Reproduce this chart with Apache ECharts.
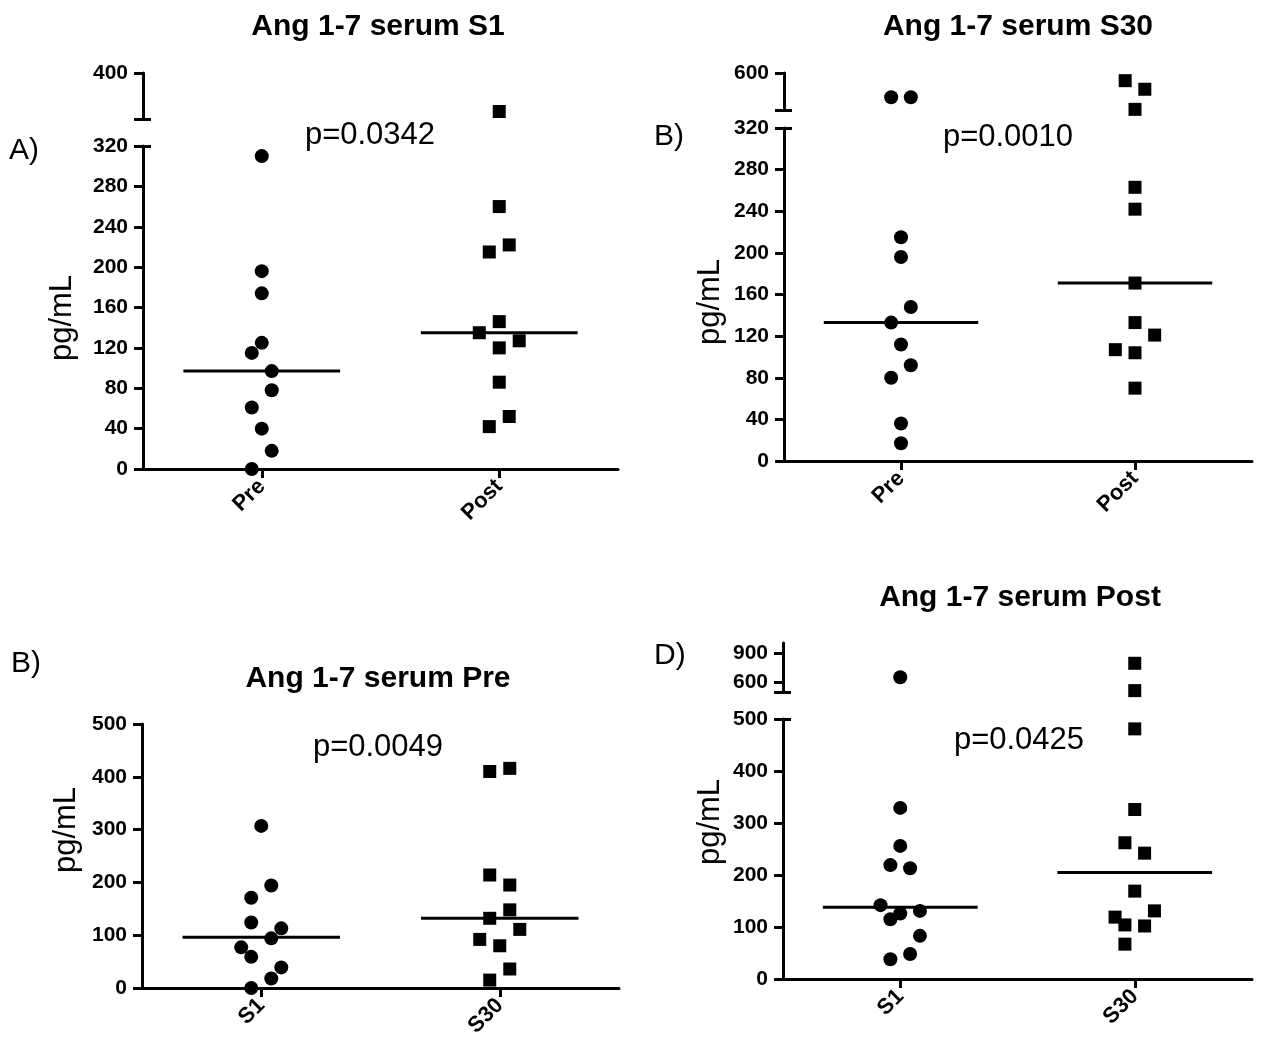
<!DOCTYPE html>
<html>
<head>
<meta charset="utf-8">
<script src="https://cdn.jsdelivr.net/npm/echarts@6/dist/echarts.min.js"></script>
<style>
  html, body { margin: 0; padding: 0; background: #fff; }
  #main { width: 1267px; height: 1041px; }
</style>
</head>
<body>
<div id="main"></div>
<script>
  // == A) Ang 1-7 serum S1 : Pre vs Post ==
  const s1Cats = ['Pre', 'Post'];
  const s1Pre = [310, 196, 174, 125, 115, 97, 78, 61, 40, 18, 0];
  const s1PreJit = [0, 0, 0, 0, -1, 1, 1, -1, 0, 1, -1];
  const s1Post = [333, 260, 222, 215, 146, 135, 127, 120, 86, 52, 42];
  const s1PostJit = [0, 0, 1, -1, 0, -2, 2, 0, 0, 1, -1];
  const s1Median = [97, 135];
  const s1Axis = [320, 40, 400]; // break value, lower step, top
  const s1UpLabels = [400];

  // == B) Ang 1-7 serum S30 : Pre vs Post ==
  const s30Cats = ['Pre', 'Post'];
  const s30Pre = [416, 416, 215, 196, 148, 133, 112, 92, 80, 36, 17];
  const s30PreJit = [-1, 1, 0, 0, 1, -1, 0, 1, -1, 0, 0];
  const s30Post = [542, 477, 325, 263, 242, 171, 133, 121, 107, 104, 70];
  const s30PostJit = [-1, 1, 0, 0, 0, 0, 0, 2, -2, 0, 0];
  const s30Median = [133, 171];
  const s30Axis = [320, 40, 600];
  const s30UpLabels = [600];

  // == B) Ang 1-7 serum Pre : S1 vs S30 ==
  const preCats = ['S1', 'S30'];
  const preS1 = [307, 194, 171, 124, 113, 94, 77, 59, 39, 18, 0];
  const preS1Jit = [0, 1, -1, -1, 2, 1, -2, -1, 2, 1, -1];
  const preS30 = [410, 416, 214, 195, 148, 132, 111, 92, 80, 36, 15];
  const preS30Jit = [-1, 1, -1, 1, 1, -1, 2, -2, 0, 1, -1];
  const preMedian = [96, 132];
  const preAxis = [500, 100, null];
  const preUpLabels = [];

  // == D) Ang 1-7 serum Post : S1 vs S30 ==
  const postCats = ['S1', 'S30'];
  const postS1 = [650, 329, 256, 219, 213, 142, 131, 126, 115, 83, 48, 38];
  const postS1Jit = [0, 0, 0, -1, 1, -2, 2, 0, -1, 2, 1, -1];
  const postS30 = [793, 514, 481, 326, 262, 242, 169, 131, 119, 104, 102, 67];
  const postS30Jit = [0, 0, 0, 0, -1, 1, 0, 2, -2, -1, 1, -1];
  const postMedian = [138, 205];
  const postAxis = [500, 100, 1000];
  const postUpLabels = [600, 900];

  const FONT = '"Liberation Sans", Arial, sans-serif';
  const black = '#000';
  const JIT = 0.042;  // x shift per jitter step (one category = 1)
  const HALF = 0.33;  // half width of the median bar
  const lineSt = { color: black, width: 3 };
  const tickFont = { color: black, fontFamily: FONT, fontWeight: 'bold', fontSize: 21 };

  const panels = [
    {
      title: 'Ang 1-7 serum S1', titleAt: [378, 12], letter: 'A)', letterAt: [9, 151],
      pval: 'p=0.0342', pAt: [370, 135], nameAt: [62, 318],
      cats: s1Cats, groups: [[s1Pre, s1PreJit], [s1Post, s1PostJit]], median: s1Median,
      axis: s1Axis, upLabels: s1UpLabels,
      low: { left: 143, top: 146, width: 475, height: 323 },
      up: { left: 143, top: 73, width: 475, height: 46 }
    },
    {
      title: 'Ang 1-7 serum S30', titleAt: [1018, 12], letter: 'B)', letterAt: [654, 137],
      pval: 'p=0.0010', pAt: [1008, 137], nameAt: [710, 302],
      cats: s30Cats, groups: [[s30Pre, s30PreJit], [s30Post, s30PostJit]], median: s30Median,
      axis: s30Axis, upLabels: s30UpLabels,
      low: { left: 784, top: 128, width: 468, height: 333 },
      up: { left: 784, top: 73, width: 468, height: 37 }
    },
    {
      title: 'Ang 1-7 serum Pre', titleAt: [378, 664], letter: 'B)', letterAt: [11, 664],
      pval: 'p=0.0049', pAt: [378, 747], nameAt: [66, 830],
      cats: preCats, groups: [[preS1, preS1Jit], [preS30, preS30Jit]], median: preMedian,
      axis: preAxis, upLabels: preUpLabels,
      low: { left: 142, top: 724, width: 477, height: 264 },
      up: null
    },
    {
      title: 'Ang 1-7 serum Post', titleAt: [1020, 583], letter: 'D)', letterAt: [654, 656],
      pval: 'p=0.0425', pAt: [1019, 740], nameAt: [710, 822],
      cats: postCats, groups: [[postS1, postS1Jit], [postS30, postS30Jit]], median: postMedian,
      axis: postAxis, upLabels: postUpLabels,
      low: { left: 783, top: 719, width: 469, height: 260 },
      up: { left: 783, top: 643, width: 469, height: 49 }
    }
  ];

  const option = {
    animation: false,
    backgroundColor: '#fff',
    title: [], grid: [], xAxis: [], yAxis: [], series: [], graphic: []
  };

  function addX(grid, cats) {
    option.xAxis.push({
      gridIndex: grid, type: 'value', min: 0, max: 2, show: !!cats,
      axisLine: { show: true, onZero: false, lineStyle: lineSt },
      axisTick: { show: true, length: 9, customValues: [0.5, 1.5], lineStyle: lineSt },
      axisLabel: {
        show: !!cats, customValues: [0.5, 1.5], rotate: 45, margin: 14,
        formatter: v => (cats ? cats[Math.round(v - 0.5)] : ''), ...tickFont, fontSize: 22
      },
      splitLine: { show: false }
    });
    return option.xAxis.length - 1;
  }

  function addY(grid, min, max, cfg) {
    option.yAxis.push({
      gridIndex: grid, type: 'value', position: 'left', offset: 0, min: min, max: max,
      interval: cfg.interval,
      axisLine: { show: cfg.line !== false, onZero: false, lineStyle: lineSt },
      axisTick: {
        show: true, inside: !!cfg.inside, length: cfg.inside ? 8 : 9,
        customValues: cfg.ticks, lineStyle: lineSt
      },
      axisLabel: { show: !cfg.inside, customValues: cfg.labels, margin: 15, ...tickFont },
      splitLine: { show: false }
    });
    return option.yAxis.length - 1;
  }

  panels.forEach(p => {
    const [brk, step, top] = p.axis;

    option.title.push({
      text: p.title, left: p.titleAt[0], top: p.titleAt[1], textAlign: 'center', padding: 0,
      textStyle: { fontFamily: FONT, fontWeight: 'bold', fontSize: 30, color: black }
    });

    // == 下段 ==
    const gl = option.grid.length;
    option.grid.push(p.low);
    const xl = addX(gl, p.cats);
    const yl = addY(gl, 0, brk, { interval: step });
    let xu, yu;
    if (p.up) {
      // cap on the inner side of the axis break
      addY(gl, 0, brk, { inside: true, line: false, ticks: [brk] });
      // == 上段 ==
      const gu = option.grid.length;
      option.grid.push(p.up);
      xu = addX(gu, null);
      yu = addY(gu, brk, top, { ticks: [brk].concat(p.upLabels), labels: p.upLabels });
      addY(gu, brk, top, { inside: true, line: false, ticks: [brk] });
    }

    p.groups.forEach(([vals, jit], gi) => {
      const c = gi + 0.5;
      const sym = gi === 0 ? 'circle' : 'rect';
      const size = gi === 0 ? 14 : 13;
      const low = [], high = [];
      vals.forEach((v, i) => (v <= brk ? low : high).push([c + jit[i] * JIT, v]));
      const dot = { color: black, opacity: 1 };
      option.series.push({
        type: 'scatter', xAxisIndex: xl, yAxisIndex: yl, data: low,
        symbol: sym, symbolSize: size, itemStyle: dot, clip: false, z: 3
      });
      if (high.length) {
        option.series.push({
          type: 'scatter', xAxisIndex: xu, yAxisIndex: yu, data: high,
          symbol: sym, symbolSize: size, itemStyle: dot, clip: false, z: 3
        });
      }
      option.series.push({
        type: 'line', xAxisIndex: xl, yAxisIndex: yl, symbol: 'none', silent: true,
        data: [[c - HALF, p.median[gi]], [c + HALF, p.median[gi]]],
        lineStyle: { color: black, width: 3, opacity: 1 }, z: 2
      });
    });

    option.graphic.push(
      {
        type: 'text', x: p.pAt[0], y: p.pAt[1],
        style: { text: p.pval, font: '31px ' + FONT, fill: black, textAlign: 'center', textVerticalAlign: 'middle' }
      },
      {
        type: 'text', x: p.letterAt[0], y: p.letterAt[1],
        style: { text: p.letter, font: '30px ' + FONT, fill: black, textAlign: 'left', textVerticalAlign: 'middle' }
      },
      {
        type: 'text', x: p.nameAt[0], y: p.nameAt[1], rotation: Math.PI / 2,
        style: { text: 'pg/mL', font: '31px ' + FONT, fill: black, textAlign: 'center', textVerticalAlign: 'middle' }
      }
    );
  });

  const myChart = echarts.init(document.getElementById('main'));
  myChart.setOption(option);
</script>
</body>
</html>
